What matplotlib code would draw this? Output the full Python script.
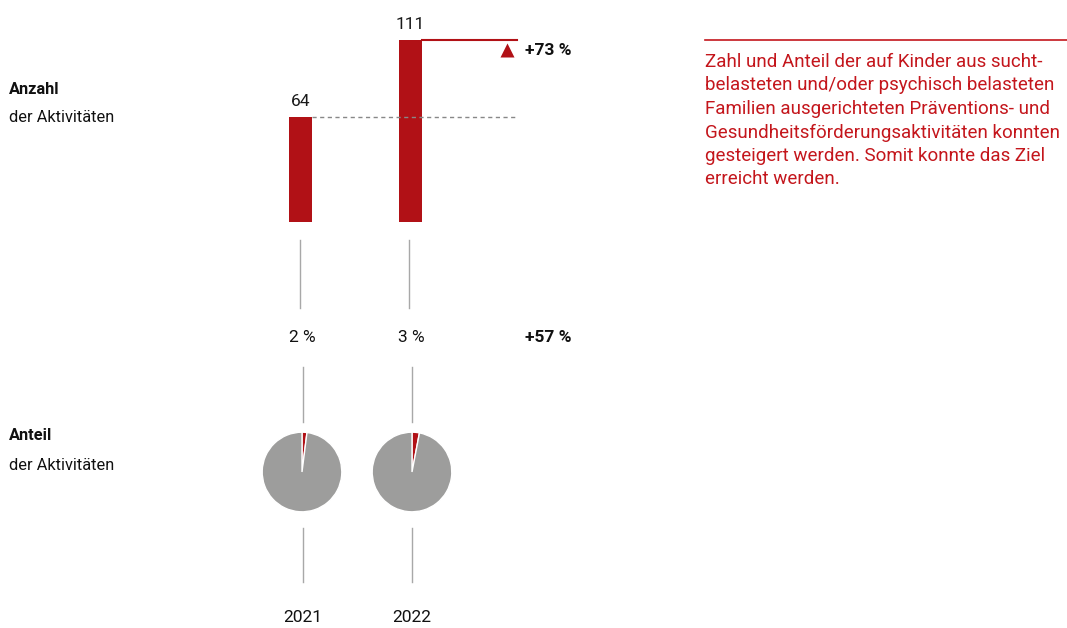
import matplotlib
matplotlib.use("Agg")
import matplotlib.pyplot as plt

plt.rcParams['font.family'] = ['Roboto', 'DejaVu Sans']

years = ['2021', '2022']
anzahl = [64, 111]
anteil = [2, 3]
change_anzahl = '+73 %'
change_anteil = '+57 %'
note_lines = [
    'Zahl und Anteil der auf Kinder aus sucht-',
    'belasteten und/oder psychisch belasteten',
    'Familien ausgerichteten Präventions- und',
    'Gesundheitsförderungsaktivitäten konnten',
    'gesteigert werden. Somit konnte das Ziel',
    'erreicht werden.',
]

RED = '#b11116'
TXTRED = '#c4161c'
GRAY = '#9d9d9c'
LINEGRAY = '#a8a8a8'

W, H = 1067, 628
fig = plt.figure(figsize=(W / 100, H / 100), dpi=100)


def box(x0, y0, x1, y1):
    # pixel box (top-left origin) -> figure fraction rect
    return [x0 / W, 1 - y1 / H, (x1 - x0) / W, (y1 - y0) / H]


# overlay in pixel coords for labels and connector lines
ov = fig.add_axes([0, 0, 1, 1])
ov.set_xlim(0, W)
ov.set_ylim(H, 0)
ov.axis('off')

# bar chart
ax = fig.add_axes(box(250, 0, 580, 222))
ax.set_xlim(-0.459, 2.541)
ax.set_ylim(0, 135.4)
ax.axis('off')
x = list(range(len(years)))
ax.bar(x, anzahl, width=0.209, color=RED)
for i, v in zip(x, anzahl):
    ax.annotate(str(v), (i, v), xytext=(0, 11), textcoords='offset pixels',
                ha='center', va='baseline', fontsize=12.5, color='#1a1a1a')
ax.plot([0.105, 1.968], [anzahl[0], anzahl[0]], color='#888888', lw=1,
        ls=(0, (3, 2.5)))
ax.plot([1.105, 1.968], [anzahl[1], anzahl[1]], color=RED, lw=1.5)
ax.plot(1.88, anzahl[1] - 6, marker='^', ms=10, color=RED, mec='none')
ax.text(2.045, anzahl[1] - 6.5, change_anzahl, fontsize=12.5, fontweight='bold',
        ha='left', va='center', color='#111111')

# left labels
ov.text(9, 89, 'Anzahl', fontsize=11.8, fontweight='bold', va='center', color='#111111')
ov.text(9, 117, 'der Aktivitäten', fontsize=11.8, va='center', color='#111111')
ov.text(9, 436, 'Anteil', fontsize=11.8, fontweight='bold', va='center', color='#111111')
ov.text(9, 465, 'der Aktivitäten', fontsize=11.8, va='center', color='#111111')

# connectors + share labels
xs_top = [300, 409]
xs_low = [303, 412]
for xt, xl, yr, a in zip(xs_top, xs_low, years, anteil):
    ov.plot([xt, xt], [240, 308], color=LINEGRAY, lw=1)
    ov.text(xl - 1, 338, f'{a} %', fontsize=12.5, ha='center', va='center', color='#111111')
    ov.plot([xl, xl], [367, 422], color=LINEGRAY, lw=1)
    ov.plot([xl, xl], [528, 582], color=LINEGRAY, lw=1)
    ov.text(xl, 618, yr, fontsize=12.5, ha='center', va='center', color='#111111')
ov.text(525, 338, change_anteil, fontsize=12.5, fontweight='bold', ha='left',
        va='center', color='#111111')

# pies
for xl, a in zip([302, 412], anteil):
    pa = fig.add_axes(box(xl - 41, 431, xl + 41, 513))
    pa.pie([a, 100 - a], colors=[RED, GRAY], startangle=90, counterclock=False,
           radius=1, wedgeprops=dict(edgecolor='white', linewidth=1))
    pa.set_xlim(-1.03, 1.03)
    pa.set_ylim(-1.03, 1.03)
    pa.set_aspect('equal')

# note on the right
ov.plot([705, 1067], [40, 40], color=TXTRED, lw=1.2)
for k, line in enumerate(note_lines):
    ov.text(705, 67 + k * 23.5, line, fontsize=13.5, color=TXTRED, ha='left',
            va='baseline')

fig.savefig('out.png', dpi=100)
